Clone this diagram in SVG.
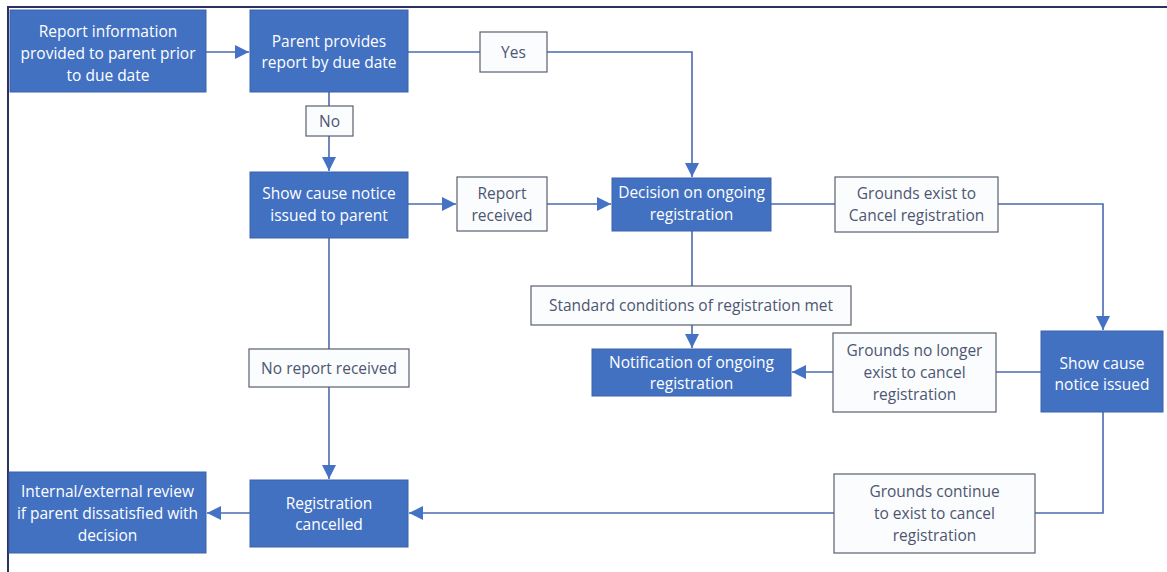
<svg xmlns="http://www.w3.org/2000/svg" width="1167" height="572" viewBox="0 0 1167 572">
<defs>
<marker id="ah" viewBox="0 0 10 10" refX="10" refY="5" markerWidth="14" markerHeight="14" markerUnits="userSpaceOnUse" orient="auto">
<path d="M0,0 L10,5 L0,10 z" fill="#4472c4"/>
</marker>
<style>
.n{fill:#4271c2;stroke:#3b63ad;stroke-width:1}
.nt{fill:#ffffff;font-family:"Open Sans","Noto Sans",sans-serif;font-size:15.5px;text-anchor:middle}
.l{fill:#fbfcfe;stroke:#5a5f6e;stroke-width:1.2}
.lt{fill:#4d5670;font-family:"Open Sans","Noto Sans",sans-serif;font-size:15.5px;text-anchor:middle}
.c{fill:none;stroke:#4a6aae;stroke-width:1.6}
.a{marker-end:url(#ah)}
</style>
</defs>
<rect width="1167" height="572" fill="#ffffff"/>
<path d="M8,572 L8,7 L1167,7" fill="none" stroke="#2c3160" stroke-width="2"/>

<g id="connectors">
<path class="c a" d="M206,52 L249,52"/>
<path class="c" d="M408,52 L480,52"/>
<path class="c a" d="M547,52 L692,52 L692,177"/>
<path class="c" d="M329,92 L329,106"/>
<path class="c a" d="M329,136 L329,171"/>
<path class="c a" d="M408,204 L456,204"/>
<path class="c a" d="M547,204 L611,204"/>
<path class="c" d="M771,204 L835,204"/>
<path class="c a" d="M998,204 L1103,204 L1103,330"/>
<path class="c" d="M692,231 L692,286"/>
<path class="c a" d="M692,325 L692,348"/>
<path class="c" d="M1041,372 L996,372"/>
<path class="c a" d="M833,372 L792,372"/>
<path class="c" d="M329,238 L329,349"/>
<path class="c a" d="M329,387 L329,479"/>
<path class="c" d="M1103,412 L1103,513 L1035,513"/>
<path class="c a" d="M834,513 L409,513"/>
<path class="c a" d="M250,513 L207,513"/>
</g>

<g id="n1"><rect class="n" x="10" y="10" width="196" height="82"/>
<text class="nt" x="108" y="37">Report information</text>
<text class="nt" x="108" y="59">provided to parent prior</text>
<text class="nt" x="108" y="81">to due date</text></g>

<g id="n2"><rect class="n" x="250" y="10" width="158" height="82"/>
<text class="nt" x="329" y="47">Parent provides</text>
<text class="nt" x="329" y="68">report by due date</text></g>

<g id="lyes"><rect class="l" x="480" y="32" width="67" height="40"/>
<text class="lt" x="513.5" y="57.5">Yes</text></g>

<g id="lno"><rect class="l" x="306" y="106" width="47" height="30"/>
<text class="lt" x="329.5" y="126.5">No</text></g>

<g id="n3"><rect class="n" x="250" y="172" width="158" height="66"/>
<text class="nt" x="329" y="199">Show cause notice</text>
<text class="nt" x="329" y="221">issued to parent</text></g>

<g id="lreport"><rect class="l" x="457" y="177" width="90" height="54"/>
<text class="lt" x="502" y="199">Report</text>
<text class="lt" x="502" y="221">received</text></g>

<g id="n4"><rect class="n" x="612" y="178" width="159" height="53"/>
<text class="nt" x="691.5" y="198">Decision on ongoing</text>
<text class="nt" x="691.5" y="220">registration</text></g>

<g id="lgrounds"><rect class="l" x="835" y="177" width="163" height="55"/>
<text class="lt" x="916.5" y="199">Grounds exist to</text>
<text class="lt" x="916.5" y="221">Cancel registration</text></g>

<g id="lstd"><rect class="l" x="531" y="286" width="320" height="39"/>
<text class="lt" x="691" y="311">Standard conditions of registration met</text></g>

<g id="n5"><rect class="n" x="592" y="349" width="199" height="47"/>
<text class="nt" x="691.5" y="368">Notification of ongoing</text>
<text class="nt" x="691.5" y="389">registration</text></g>

<g id="lnolonger"><rect class="l" x="833" y="333" width="163" height="79"/>
<text class="lt" x="914.5" y="356">Grounds no longer</text>
<text class="lt" x="914.5" y="378">exist to cancel</text>
<text class="lt" x="914.5" y="400">registration</text></g>

<g id="n6"><rect class="n" x="1041" y="331" width="122" height="81"/>
<text class="nt" x="1102" y="369">Show cause</text>
<text class="nt" x="1102" y="390">notice issued</text></g>

<g id="lnoreport"><rect class="l" x="249" y="349" width="160" height="38"/>
<text class="lt" x="329" y="374">No report received</text></g>

<g id="n7"><rect class="n" x="250" y="480" width="158" height="67"/>
<text class="nt" x="329" y="509">Registration</text>
<text class="nt" x="329" y="530">cancelled</text></g>

<g id="n8"><rect class="n" x="9" y="472" width="197" height="81"/>
<text class="nt" x="107.5" y="497">Internal/external review</text>
<text class="nt" x="107.5" y="519">if parent dissatisfied with</text>
<text class="nt" x="107.5" y="541">decision</text></g>

<g id="lcontinue"><rect class="l" x="834" y="474" width="201" height="79"/>
<text class="lt" x="934.5" y="497">Grounds continue</text>
<text class="lt" x="934.5" y="519">to exist to cancel</text>
<text class="lt" x="934.5" y="541">registration</text></g>
</svg>
